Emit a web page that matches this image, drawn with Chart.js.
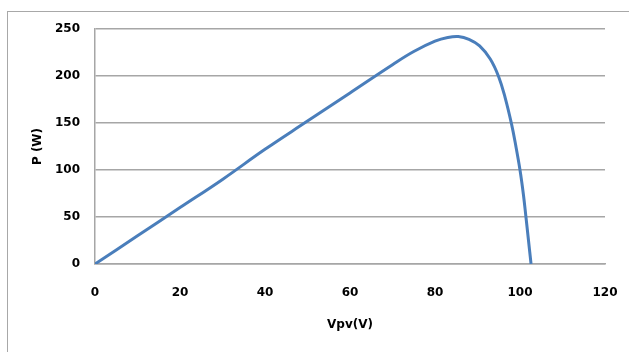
<!DOCTYPE html>
<html>
<head>
<meta charset="utf-8">
<script src="https://cdn.jsdelivr.net/npm/chart.js@4"></script>
<style>
  html, body { margin: 0; padding: 0; background: #fff; overflow: hidden; }
  #frame { position: absolute; left: 7px; top: 11px; width: 700px; height: 400px; border: 1.5px solid #a8a8a8; }
  #wrap { position: absolute; left: 0; top: 0; width: 629px; height: 352px; }
</style>
</head>
<body>
<div id="frame"></div>
<div id="wrap"><canvas id="chart" width="629" height="352"></canvas></div>
<script>
// PV power curve
const voltage = [0, 10, 20, 30, 40, 50, 60, 70, 75, 80, 83, 85.5, 88, 90.5, 93, 95, 96.5, 98, 99, 100, 100.8, 101.4, 102, 102.6];
const power = [0, 30, 60, 90, 122, 152, 182, 212, 226, 237, 241, 242, 239, 232, 218, 199, 177, 149, 126, 100, 74, 50, 25, 0];

const xTicks = [0, 20, 40, 60, 80, 100, 120];
const yTicks = [0, 50, 100, 150, 200, 250];

const points = [];
for (let i = 0; i < voltage.length; i++) {
  points.push({ x: voltage[i], y: power[i] });
}

const tickFont = { family: "DejaVu Sans", size: 12, weight: "bold" };
const gridColor = "#a6a6a6";

new Chart(document.getElementById("chart"), {
  type: "scatter",
  data: {
    datasets: [
      {
        data: points,
        showLine: true,
        borderColor: "#4a7ebb",
        borderWidth: 3,
        pointRadius: 0,
        tension: 0.4,
      },
    ],
  },
  options: {
    responsive: false,
    animation: false,
    layout: { padding: { left: 31, top: 29, right: 24, bottom: 20 } },
    plugins: { legend: { display: false }, tooltip: { enabled: false } },
    scales: {
      x: {
        type: "linear",
        min: 0,
        max: 120,
        afterBuildTicks: (s) => { s.ticks = xTicks.map((v) => ({ value: v })); },
        afterFit: (s) => { s.height = 68; s.paddingLeft = 0; s.paddingRight = 0; },
        grid: { display: false, drawTicks: false },
        border: { display: true, color: gridColor, width: 1.5 },
        ticks: { color: "#000", font: tickFont, padding: 22 },
        title: { display: true, text: "Vpv(V)", color: "#000", font: tickFont, padding: 0 },
      },
      y: {
        type: "linear",
        min: 0,
        max: 250,
        afterBuildTicks: (s) => { s.ticks = yTicks.map((v) => ({ value: v })); },
        afterFit: (s) => { s.width = 64; },
        grid: { color: gridColor, lineWidth: 1.5, drawTicks: false },
        border: { display: true, color: gridColor, width: 1.5 },
        ticks: { color: "#000", font: tickFont, padding: 15 },
        title: { display: true, text: "P (W)", color: "#000", font: tickFont, padding: 0 },
      },
    },
  },
});
</script>
</body>
</html>
